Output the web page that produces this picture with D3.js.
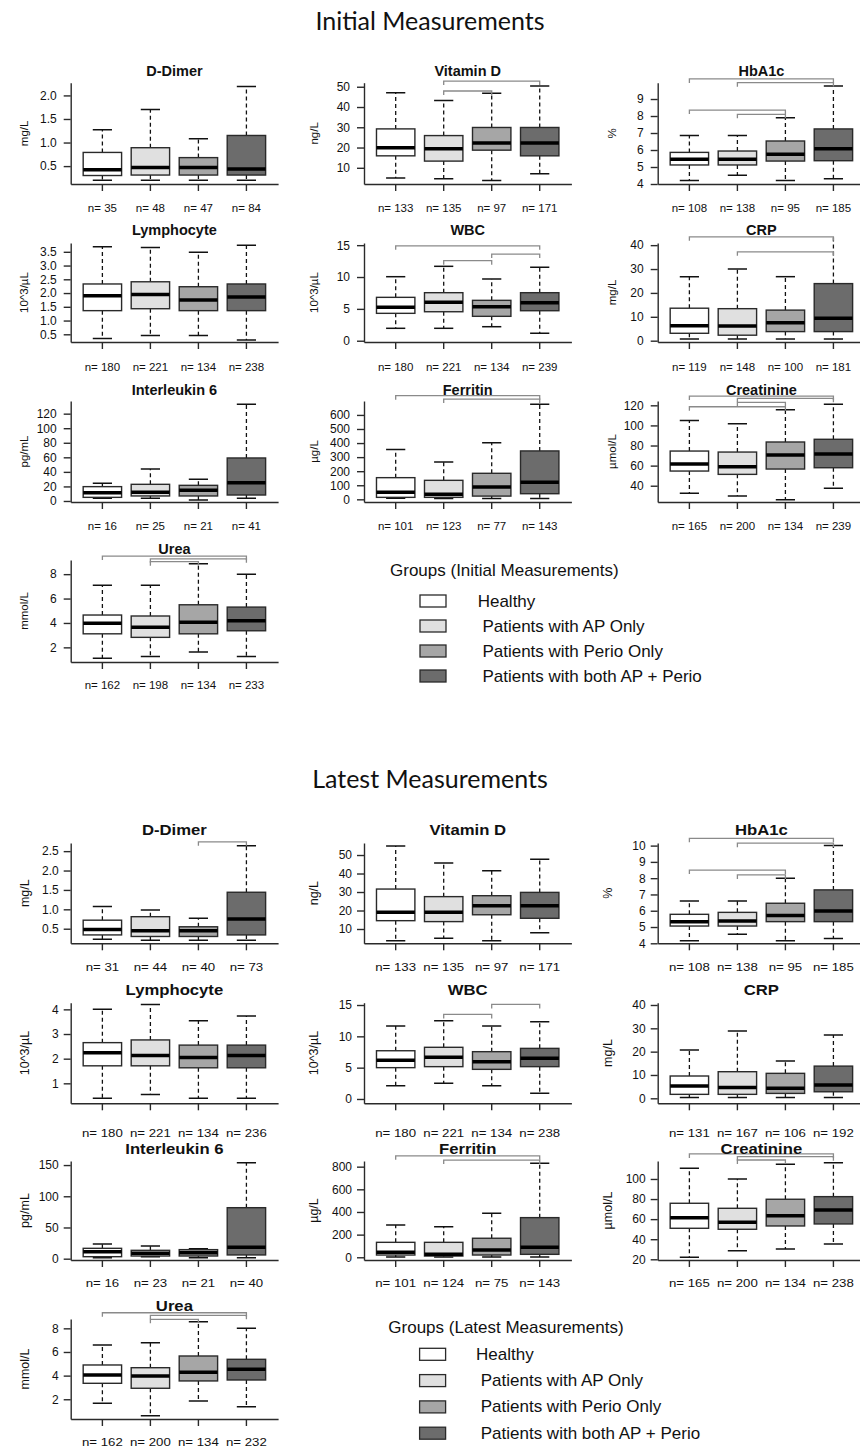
<!DOCTYPE html>
<html>
<head>
<meta charset="utf-8">
<script src="https://cdn.jsdelivr.net/npm/d3@7"></script>
<style>
  body { margin: 0; background: #fff; }
  svg  { display: block; font-family: "Liberation Sans", Arial, sans-serif; }
</style>
</head>
<body>
<div id="chart"></div>
<script>
/* ── Data ─────────────────────────────────────────────────────────── */
const groupLabels = ['Healthy', ' Patients with AP Only', ' Patients with Perio Only', ' Patients with both AP + Perio'];
const panelTitles = ['D-Dimer', 'Vitamin D', 'HbA1c', 'Lymphocyte', 'WBC', 'CRP', 'Interleukin 6', 'Ferritin', 'Creatinine', 'Urea'];
const panelUnits  = ['mg/L', 'ng/L', '%', '10^3/µL', '10^3/µL', 'mg/L', 'pg/mL', 'µg/L', 'µmol/L', 'mmol/L'];

// per group: [lower whisker, Q1, median, Q3, upper whisker]
const initialStats = [
  [[0.2, 0.3, 0.42, 0.79, 1.27], [0.2, 0.31, 0.47, 0.89, 1.7], [0.2, 0.31, 0.47, 0.68, 1.08], [0.2, 0.31, 0.44, 1.15, 2.19]],
  [[4.9, 15.9, 19.9, 29.2, 47.1], [4.6, 13.3, 19.4, 25.9, 43.2], [3.7, 18.7, 22.2, 29.9, 46.8], [7.0, 15.9, 22.2, 29.9, 50.4]],
  [[4.2, 5.12, 5.45, 5.86, 6.86], [4.51, 5.12, 5.45, 5.94, 6.86], [4.2, 5.35, 5.75, 6.53, 7.9], [4.31, 5.37, 6.08, 7.24, 9.76]],
  [[0.35, 1.36, 1.9, 2.33, 3.68], [0.46, 1.43, 1.95, 2.41, 3.66], [0.46, 1.36, 1.75, 2.23, 3.48], [0.29, 1.36, 1.86, 2.33, 3.74]],
  [[1.95, 4.3, 5.24, 6.81, 10.05], [1.95, 4.55, 6.03, 7.54, 11.68], [2.2, 3.83, 5.34, 6.34, 9.69], [1.16, 4.71, 5.97, 7.54, 11.52]],
  [[0.7, 3.1, 6.3, 13.6, 26.8], [0.7, 2.3, 6.2, 13.4, 30.0], [0.7, 3.8, 7.5, 12.8, 26.8], [0.7, 3.8, 9.4, 23.9, 60]],
  [[3.7, 5.0, 11.4, 19.7, 24.3], [3.7, 6.9, 11.9, 22.9, 44], [1.4, 6.9, 14.7, 21.5, 29.8], [3.7, 8.2, 25.2, 59.1, 132.8]],
  [[7, 14, 50, 154, 355], [5, 14, 36, 135, 265], [5, 23, 87, 185, 403], [5, 40, 121, 344, 676]],
  [[32.4, 54.6, 61.6, 74.5, 105], [29.8, 51.3, 58.9, 73.5, 101.7], [26, 56.6, 70.5, 83.5, 115.6], [37.4, 57.9, 71.5, 86.2, 121]],
  [[1.1, 3.11, 3.97, 4.65, 7.1], [1.26, 2.82, 3.64, 4.57, 7.1], [1.61, 3.11, 4.05, 5.49, 8.85], [1.26, 3.36, 4.18, 5.3, 8.0]]
];
const latestStats = [
  [[0.23, 0.34, 0.48, 0.72, 1.07], [0.2, 0.3, 0.45, 0.81, 0.98], [0.2, 0.3, 0.45, 0.55, 0.77], [0.2, 0.34, 0.75, 1.44, 2.64]],
  [[3.7, 14.5, 19.0, 31.6, 54.9], [5.0, 14.0, 19.0, 27.5, 45.7], [3.7, 17.7, 22.6, 28.0, 41.5], [8.0, 15.8, 22.6, 29.8, 47.7]],
  [[4.16, 5.06, 5.33, 5.78, 6.6], [4.55, 5.06, 5.37, 5.9, 6.6], [4.16, 5.33, 5.7, 6.46, 8.0], [4.3, 5.33, 5.99, 7.28, 10.0]],
  [[0.39, 1.71, 2.24, 2.65, 4.0], [0.55, 1.71, 2.13, 2.76, 4.2], [0.39, 1.63, 2.05, 2.55, 3.54], [0.39, 1.63, 2.13, 2.55, 3.73]],
  [[2.13, 5.0, 6.17, 7.7, 11.65], [2.5, 5.16, 6.65, 8.25, 12.5], [2.13, 4.73, 5.95, 7.55, 11.65], [0.9, 5.16, 6.49, 8.08, 12.34]],
  [[0.3, 1.7, 5.3, 9.56, 20.7], [0.3, 1.7, 4.6, 11.4, 28.8], [0.3, 2.1, 4.3, 10.7, 16.0], [0.3, 2.8, 5.7, 13.8, 27.1]],
  [[1.6, 3.2, 11.2, 16.6, 23.5], [3.2, 4.3, 8.6, 13.4, 20.3], [1.6, 4.3, 9.6, 14.5, 16], [1.6, 6.0, 18.3, 81.7, 153.8]],
  [[3, 20, 44, 132, 285], [3, 11, 26, 132, 270], [3, 20, 64, 168, 388], [3, 26, 88, 350, 830]],
  [[22, 50.9, 61.4, 75.8, 110.6], [28.6, 49.9, 56.9, 70.8, 100], [30.3, 53.2, 63.4, 79.8, 114.6], [35.3, 55.2, 69.1, 82.4, 116.2]],
  [[1.66, 3.35, 4.05, 4.9, 6.59], [0.61, 2.93, 3.97, 4.67, 6.78], [1.86, 3.55, 4.28, 5.66, 8.56], [1.37, 3.63, 4.54, 5.38, 8.0]]
];

const initialN = [[35, 48, 47, 84], [133, 135, 97, 171], [108, 138, 95, 185], [180, 221, 134, 238], [180, 221, 134, 239],
                  [119, 148, 100, 181], [16, 25, 21, 41], [101, 123, 77, 143], [165, 200, 134, 239], [162, 198, 134, 233]];
const latestN  = [[31, 44, 40, 73], [133, 135, 97, 171], [108, 138, 95, 185], [180, 221, 134, 236], [180, 221, 134, 238],
                  [131, 167, 106, 192], [16, 23, 21, 40], [101, 124, 75, 143], [165, 200, 134, 238], [162, 200, 134, 232]];

const initialTicks = [[0.5, 1, 1.5, 2], [10, 20, 30, 40, 50], [4, 5, 6, 7, 8, 9], [0.5, 1, 1.5, 2, 2.5, 3, 3.5], [0, 5, 10, 15],
                      [0, 10, 20, 30, 40], [0, 20, 40, 60, 80, 100, 120], [0, 100, 200, 300, 400, 500, 600], [40, 60, 80, 100, 120], [2, 4, 6, 8]];
const latestTicks  = [[0.5, 1, 1.5, 2, 2.5], [10, 20, 30, 40, 50], [4, 5, 6, 7, 8, 9, 10], [1, 2, 3, 4], [0, 5, 10, 15],
                      [0, 10, 20, 30, 40], [0, 50, 100, 150], [0, 200, 400, 600, 800], [20, 40, 60, 80, 100], [2, 4, 6, 8]];

// y limits of each panel
const initialDomains = [[0.12, 2.27], [2, 52], [4, 9.96], [0.22, 3.82], [-0.2, 15.34],
                        [-0.55, 40.9], [-1.4, 137.4], [-19, 699], [23.8, 124.3], [0.8, 9.16]];
const latestDomains  = [[0.124, 2.71], [2.27, 56.5], [4, 10.16], [0.19, 4.27], [-0.69, 15.37],
                        [-2.14, 40.98], [-2.1, 156.5], [-24, 850], [19.3, 117.9], [0.33, 8.79]];

// significance brackets: [from group, to group, height in panel units]
const initialBrackets = [
  [], [[1, 3, 52.8], [1, 2, 47.9]], [[0, 3, 10.18], [1, 3, 9.96], [0, 2, 8.35], [1, 2, 8.1]],
  [], [[0, 3, 14.9], [1, 2, 12.56], [2, 3, 13.6]], [[0, 3, 43.5], [1, 3, 37.2]],
  [], [[0, 3, 737], [1, 3, 713]], [[0, 3, 129.2], [1, 3, 127], [1, 2, 123], [0, 2, 118.6]],
  [[0, 3, 9.48], [1, 3, 9.26], [1, 2, 9.02]]
];
const latestBrackets = [
  [[2, 3, 2.74]], [], [[0, 3, 10.45], [1, 3, 10.15], [0, 2, 8.5], [1, 2, 8.2]],
  [], [[1, 2, 13.5], [2, 3, 15.1]], [],
  [], [[0, 3, 896], [1, 3, 858]], [[0, 3, 124.9], [1, 3, 122.2], [1, 2, 118.9]],
  [[0, 3, 9.32], [1, 3, 9.1], [1, 2, 8.76]]
];

/* ── Layout / style ───────────────────────────────────────────────── */
const W = 860, H = 1447;
const COL_X  = [70.7, 364, 657.7];
const PLOT_W = 207.4;
const FILLS  = ['#ffffff', '#e0e0e0', '#a6a6a6', '#6c6c6c'];
const INK    = '#2a2a2a';

const SECTIONS = [
  {
    heading: 'Initial Measurements', headingY: 30,
    stats: initialStats, n: initialN, ticks: initialTicks, domains: initialDomains, brackets: initialBrackets,
    rowTop: [82.7, 243, 401, 560], rowBottom: [184, 342, 502, 662],
    titleY: [71, 230, 390, 549], nY: [208.3, 366.7, 526, 685],
    unitDx: [-47, -50, -46], stretch: 1, tickPad: 7,
    legend: { title: 'Groups (Initial Measurements)', x: 390, titleY: 570.7, boxX: 420, rowY: 601, step: 25, textX: 477.7 }
  },
  {
    heading: 'Latest Measurements', headingY: 788,
    stats: latestStats, n: latestN, ticks: latestTicks, domains: latestDomains, brackets: latestBrackets,
    rowTop: [843, 1002.7, 1161, 1319], rowBottom: [943.3, 1103.3, 1260, 1419],
    titleY: [830, 990, 1149.3, 1306], nY: [966.7, 1133.3, 1283.3, 1441.7],
    unitDx: [-46, -50, -50], stretch: 1.15, tickPad: 5,
    legend: { title: 'Groups (Latest Measurements)', x: 388.3, titleY: 1327.3, boxX: 419.6, rowY: 1354.3, step: 26.3, textX: 476 }
  }
];

/* ── SVG scaffold ─────────────────────────────────────────────────── */
const svg = d3.select('#chart').append('svg')
  .attr('width', W).attr('height', H)
  .attr('viewBox', `0 0 ${W} ${H}`);

svg.append('rect').attr('width', W).attr('height', H).attr('fill', '#fff');

let clipId = 0;

SECTIONS.forEach(sec => {
  svg.append('text')
    .attr('x', W / 2).attr('y', sec.headingY)
    .attr('text-anchor', 'middle')
    .attr('font-family', 'Lato, "Open Sans", sans-serif')
    .attr('font-size', 25)
    .attr('fill', '#111')
    .text(sec.heading);

  panelTitles.forEach((t, i) => drawPanel(sec, i));
  drawLegend(sec.legend);
});

/* ── Helpers ──────────────────────────────────────────────────────── */

// widen a text horizontally (the lower figure is rendered a bit wider)
function stretch(sel, k) {
  if (k === 1) return;
  sel.each(function () {
    const len = this.getComputedTextLength();
    d3.select(this).attr('textLength', len * k).attr('lengthAdjust', 'spacingAndGlyphs');
  });
}

function drawPanel(sec, i) {
  const col = i % 3, row = Math.floor(i / 3);
  const x0  = COL_X[col];
  const g   = svg.append('g');

  const x = d3.scaleBand()
    .domain(d3.range(4))
    .range([x0, x0 + PLOT_W])
    .paddingInner(0.2).paddingOuter(0.26);
  const bw = x.bandwidth();
  const cx = j => x(j) + bw / 2;

  const y = d3.scaleLinear()
    .domain(sec.domains[i])
    .range([sec.rowBottom[row], sec.rowTop[row]]);

  const ticks = sec.ticks[i];
  const fmt = ticks.every(Number.isInteger) ? d3.format('d') : d3.format('.1f');

  /* axes */
  const ya = g.append('g')
    .attr('transform', `translate(${x0},0)`)
    .call(d3.axisLeft(y).tickValues(ticks).tickFormat(fmt)
      .tickSize(7).tickSizeOuter(0).tickPadding(sec.tickPad));
  const xa = g.append('g')
    .attr('transform', `translate(0,${sec.rowBottom[row]})`)
    .call(d3.axisBottom(x).tickFormat('').tickSize(7).tickSizeOuter(0));
  [ya, xa].forEach(a => {
    a.select('.domain').attr('stroke', INK).attr('stroke-width', 1.4);
    a.selectAll('.tick line').attr('stroke', INK).attr('stroke-width', 1.4);
    a.selectAll('text').attr('fill', '#111').attr('font-size', 12)
      .attr('font-family', '"Liberation Sans", Arial, sans-serif');
  });

  /* clip (lets whiskers run a few px above the plot region) */
  const id = 'clip' + (clipId++);
  g.append('clipPath').attr('id', id).append('rect')
    .attr('x', x0).attr('width', PLOT_W)
    .attr('y', sec.rowTop[row] - 6.5)
    .attr('height', sec.rowBottom[row] - sec.rowTop[row] + 6.5);
  const pg = g.append('g').attr('clip-path', `url(#${id})`);

  sec.stats[i].forEach((s, j) => {
    const [lo, q1, med, q3, hi] = s;
    const c = cx(j);
    // whiskers
    [[q3, hi], [q1, lo]].forEach(([a, b]) => {
      pg.append('line')
        .attr('x1', c).attr('x2', c).attr('y1', y(a)).attr('y2', y(b))
        .attr('stroke', '#111').attr('stroke-width', 1.3).attr('stroke-dasharray', '4,3');
      pg.append('line')
        .attr('x1', c - bw / 4).attr('x2', c + bw / 4).attr('y1', y(b)).attr('y2', y(b))
        .attr('stroke', '#111').attr('stroke-width', 1.5);
    });
    // box
    pg.append('rect')
      .attr('x', x(j)).attr('width', bw)
      .attr('y', y(q3)).attr('height', y(q1) - y(q3))
      .attr('fill', FILLS[j]).attr('stroke', INK).attr('stroke-width', 1.4);
    // median
    pg.append('line')
      .attr('x1', x(j)).attr('x2', x(j) + bw).attr('y1', y(med)).attr('y2', y(med))
      .attr('stroke', '#000').attr('stroke-width', 3.5);
  });

  /* significance brackets */
  sec.brackets[i].forEach(([a, b, v]) => {
    const yy = y(v);
    g.append('path')
      .attr('d', `M${cx(a)},${yy + 4}V${yy}H${cx(b)}V${yy + 4}`)
      .attr('fill', 'none').attr('stroke', '#8a8a8a').attr('stroke-width', 1.3);
  });

  /* title */
  g.append('text')
    .attr('x', x0 + PLOT_W / 2).attr('y', sec.titleY[row])
    .attr('text-anchor', 'middle').attr('dominant-baseline', 'central')
    .attr('font-size', 14.5).attr('font-weight', 'bold').attr('fill', '#111')
    .text(panelTitles[i])
    .call(stretch, sec.stretch);

  /* unit label */
  const ux = x0 + sec.unitDx[col];
  const uy = (sec.rowTop[row] + sec.rowBottom[row]) / 2;
  g.append('text')
    .attr('transform', `translate(${ux},${uy}) rotate(-90)`)
    .attr('text-anchor', 'middle').attr('dominant-baseline', 'central')
    .attr('font-size', sec.stretch === 1 ? 11.5 : 12.5).attr('fill', '#111')
    .text(panelUnits[i]);

  /* n labels */
  g.selectAll('.nlab')
    .data(sec.n[i])
    .join('text')
    .attr('class', 'nlab')
    .attr('x', (d, j) => cx(j)).attr('y', sec.nY[row])
    .attr('text-anchor', 'middle').attr('dominant-baseline', 'central')
    .attr('font-size', 11.5).attr('fill', '#111')
    .text(d => 'n= ' + d)
    .call(stretch, sec.stretch);
}

function drawLegend(L) {
  const g = svg.append('g');
  g.append('text')
    .attr('x', L.x).attr('y', L.titleY)
    .attr('dominant-baseline', 'central')
    .attr('font-size', 17).attr('fill', '#111')
    .text(L.title);

  groupLabels.forEach((lab, j) => {
    const yy = L.rowY + j * L.step;
    g.append('rect')
      .attr('x', L.boxX).attr('y', yy - 6)
      .attr('width', 26).attr('height', 12)
      .attr('fill', FILLS[j]).attr('stroke', INK).attr('stroke-width', 1.3);
    g.append('text')
      .attr('x', L.textX).attr('y', yy)
      .attr('dominant-baseline', 'central')
      .attr('font-size', 17).attr('fill', '#111')
      .style('white-space', 'pre')
      .text(lab);
  });
}
</script>
</body>
</html>
